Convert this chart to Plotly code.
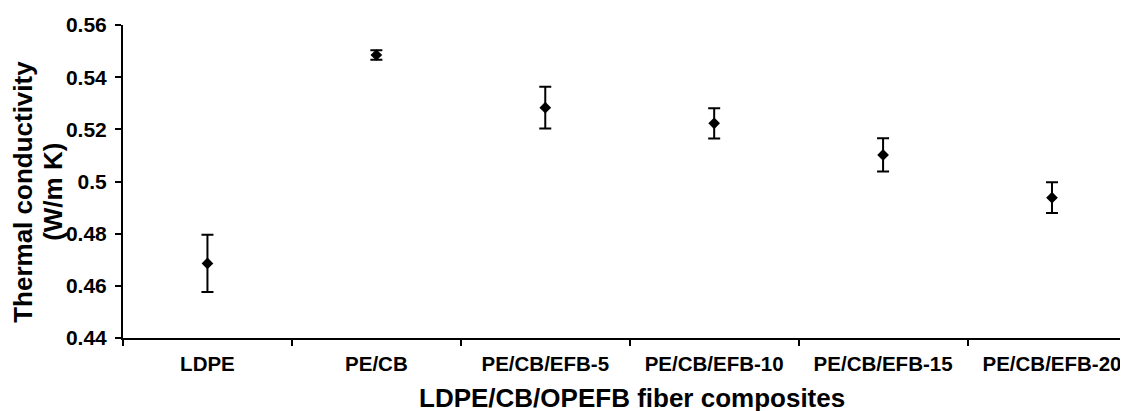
import plotly.graph_objects as go

categories = ["LDPE", "PE/CB", "PE/CB/EFB-5", "PE/CB/EFB-10", "PE/CB/EFB-15", "PE/CB/EFB-20"]
conductivity = [0.4686, 0.5485, 0.5283, 0.5223, 0.5102, 0.4938]
error = [0.011, 0.0018, 0.008, 0.0058, 0.0064, 0.0059]
y_ticks = [0.44, 0.46, 0.48, 0.50, 0.52, 0.54, 0.56]
y_ticklabels = ["0.44", "0.46", "0.48", "0.5", "0.52", "0.54", "0.56"]
y_title_lines = ["Thermal conductivity", "(W/m K)"]
x_title = "LDPE/CB/OPEFB fiber composites"

FONT = "Arial, 'Liberation Sans', sans-serif"

fig = go.Figure()
fig.add_trace(go.Scatter(
    x=categories, y=conductivity, mode="markers",
    marker=dict(symbol="diamond", size=9, color="black"),
    error_y=dict(type="data", array=error, visible=True, color="black", thickness=2, width=6),
    showlegend=False,
))

title_font = dict(family=FONT, size=26, weight="bold", color="black")

# page has an 8px body margin: figure coordinates = page coordinates - 8
fig.update_layout(
    width=1120, height=403,
    margin=dict(l=115, r=0, t=17, b=73, autoexpand=False),
    plot_bgcolor="white", paper_bgcolor="white",
    font=dict(family=FONT, color="black"),
    xaxis=dict(
        type="category", range=[-0.5, 5.45],
        showline=True, linecolor="black", linewidth=2,
        ticks="outside", tickson="boundaries", ticklen=6, tickwidth=2, tickcolor="black",
        ticklabelstandoff=6,
        tickfont=dict(family=FONT, size=20.5, weight="bold", color="black"),
        showgrid=False, zeroline=False,
    ),
    yaxis=dict(
        range=[0.44, 0.56], tickvals=y_ticks, ticktext=y_ticklabels,
        showline=True, linecolor="black", linewidth=2,
        ticks="outside", ticklen=6, tickwidth=2, tickcolor="black",
        ticklabelstandoff=4,
        tickfont=dict(family=FONT, size=21, weight="bold", color="black"),
        showgrid=False, zeroline=False,
    ),
    annotations=[
        dict(text=y_title_lines[0], textangle=-90,
             xref="paper", yref="paper", x=0, y=0.467, xshift=-100,
             xanchor="center", yanchor="middle", showarrow=False, font=title_font),
        dict(text=y_title_lines[1], textangle=-90,
             xref="paper", yref="paper", x=0, y=0.467, xshift=-70,
             xanchor="center", yanchor="middle", showarrow=False, font=title_font),
        dict(text=x_title,
             xref="paper", yref="paper", x=0.5, y=0, xshift=6, yshift=-60,
             xanchor="center", yanchor="middle", showarrow=False, font=title_font),
    ],
)

fig.write_html("out.html")
